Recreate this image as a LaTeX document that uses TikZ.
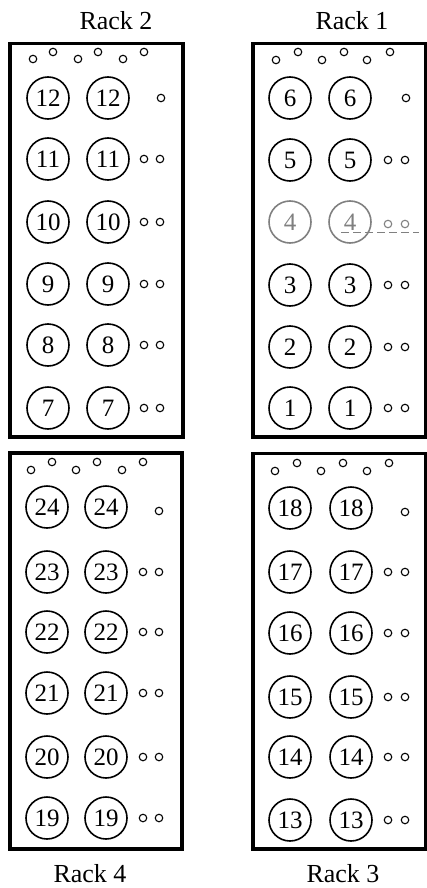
\documentclass[tikz,border=0pt]{standalone}
\usepackage{fontspec}
\setmainfont{Liberation Serif}
\begin{document}
\begin{tikzpicture}[x=1pt,y=-1pt,
  rackbox/.style={draw,line width=3.6pt},
  hole/.style={circle,draw,line width=1.6pt,minimum size=42pt,inner sep=0pt,font=\fontsize{25}{25}\selectfont},
  pin/.style={circle,draw,line width=1.1pt,minimum size=7.5pt,inner sep=0pt},
  faded/.style={draw=black!50,text=black!50},
  lbl/.style={anchor=base,font=\fontsize{26}{26}\selectfont}]
\useasboundingbox (0,0) rectangle (426,888);
% boxes
\draw[rackbox] (10,43.5) rectangle (183,437);
\draw[rackbox] (253,43.5) rectangle (425.5,437);
\draw[rackbox] (10,453) rectangle (182,849);
\draw[rackbox] (253,453.5) rectangle (425.5,849);
% labels
\node[lbl] (l2) at (116,30) {Rack 2};
\node[lbl] (l1) at (352,30) {Rack 1};
\node[lbl] (l4) at (90,882) {Rack 4};
\node[lbl] (l3) at (343,882) {Rack 3};
% top pins
\foreach \x/\y [count=\i] in {33/59,53/52,78/59,98/52,123/59,144/52}
  \node[pin] (tA\i) at (\x,\y) {};
\foreach \x/\y [count=\i] in {276/60,298/52,322/60,344/52,367/60,390/52}
  \node[pin] (tB\i) at (\x,\y) {};
\foreach \x/\y [count=\i] in {31/470,52/462,76/470,97/462,122/470,143/462}
  \node[pin] (tC\i) at (\x,\y) {};
\foreach \x/\y [count=\i] in {275/471,297/463,321/471,343/463,367/471,389/463}
  \node[pin] (tD\i) at (\x,\y) {};
% Rack 2
\foreach \y/\n in {98/12,159/11,222/10,284/9,345/8,408/7}{
  \node[hole] (a\n) at (48,\y) {\n};
  \node[hole] (b\n) at (108,\y) {\n};}
\foreach \y/\n in {159/11,222/10,284/9,345/8,408/7}{
  \node[pin] (p\n) at (144,\y) {};
  \node[pin] (q\n) at (160,\y) {};}
\node[pin] (s12) at (161,98) {};
% Rack 1
\foreach \y/\n in {98/6,160/5,285/3,347/2,408/1}{
  \node[hole] (a\n) at (290,\y) {\n};
  \node[hole] (b\n) at (350,\y) {\n};}
\foreach \y/\n in {160/5,285/3,347/2,408/1}{
  \node[pin] (p\n) at (388,\y) {};
  \node[pin] (q\n) at (405,\y) {};}
\node[pin] (s6) at (406,98) {};
\node[hole,faded] (a4) at (290,222) {4};
\node[hole,faded] (b4) at (350,222) {4};
\node[pin,faded] (p4) at (388,224) {};
\node[pin,faded] (q4) at (405,224) {};
\coordinate (d4a) at (341,232);
\coordinate (d4b) at (419,232);
\draw[black!50,line width=0.8pt,dash pattern=on 8pt off 4pt] (d4a) -- (d4b);
% Rack 4
\foreach \y/\n in {507/24,572/23,632/22,693/21,757/20,818/19}{
  \node[hole] (a\n) at (47,\y) {\n};
  \node[hole] (b\n) at (106,\y) {\n};}
\foreach \y/\n in {572/23,632/22,693/21,757/20,818/19}{
  \node[pin] (p\n) at (143,\y) {};
  \node[pin] (q\n) at (159,\y) {};}
\node[pin] (s24) at (159,511) {};
% Rack 3
\foreach \y/\n in {508/18,572/17,633/16,697/15,757/14,820/13}{
  \node[hole] (a\n) at (290,\y) {\n};
  \node[hole] (b\n) at (351,\y) {\n};}
\foreach \y/\n in {572/17,633/16,697/15,757/14,820/13}{
  \node[pin] (p\n) at (388,\y) {};
  \node[pin] (q\n) at (405,\y) {};}
\node[pin] (s18) at (405,512) {};
\end{tikzpicture}
\end{document}
